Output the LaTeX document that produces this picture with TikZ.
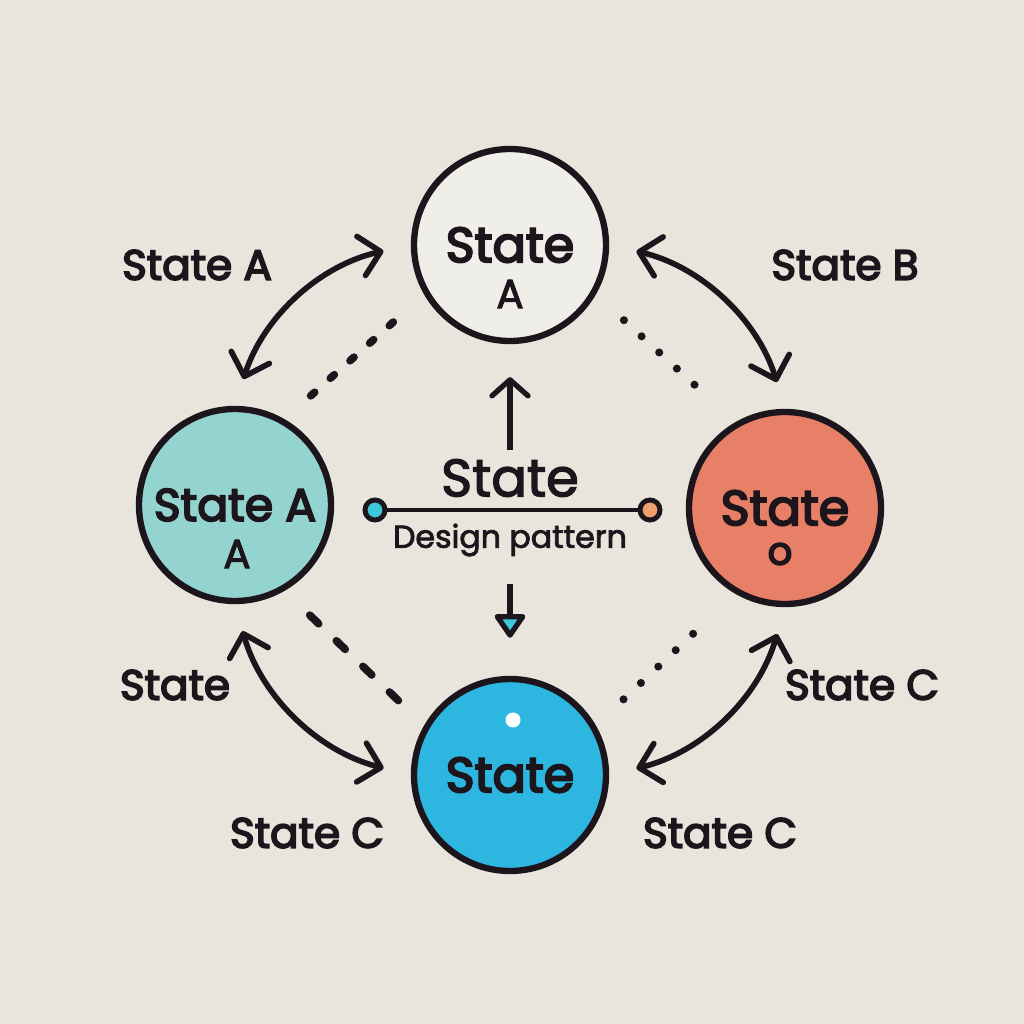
\documentclass[tikz,border=0pt]{standalone}
\usepackage{fontspec}
\setmainfont{Poppins}
\newfontfamily\medium{Poppins}[FakeBold=4]
\newfontfamily\lightmed{Poppins}[FakeBold=2.5]
\usetikzlibrary{arrows.meta,positioning}
\definecolor{paper}{RGB}{232,229,221}
\definecolor{ink}{RGB}{28,22,28}
\definecolor{paleA}{RGB}{240,238,232}
\definecolor{tealA}{RGB}{148,212,208}
\definecolor{coralB}{RGB}{232,128,104}
\definecolor{blueC}{RGB}{44,182,224}
\definecolor{dotcyan}{RGB}{60,200,216}
\definecolor{dotorange}{RGB}{240,160,112}

\begin{document}
\begin{tikzpicture}[
		st/.style={circle,draw=ink,line width=1.8pt,minimum size=1.92cm,inner sep=0pt,text=ink,font=\medium\fontsize{14}{16}\selectfont},
		lbl/.style={font=\medium\fontsize{12}{14}\selectfont,text=ink},
		minor/.style={font=\lightmed\fontsize{11.5}{13}\selectfont,text=ink,inner sep=1pt},
		pin/.style={circle,draw=ink,line width=1.4pt,minimum size=0.2cm,inner sep=0pt},
		twoway/.style={ink,line width=1.6pt,shorten <=0.28cm,shorten >=0.28cm,{Straight Barb[length=2mm,width=4mm,round]}-{Straight Barb[length=2mm,width=4mm,round]}},
		dashlink/.style={ink,line width=2.2pt,line cap=round,dash pattern=on 1.5pt off 6pt,shorten <=0.35cm,shorten >=0.33cm},
		dotlink/.style={ink,line width=2.3pt,line cap=round,dash pattern=on 0pt off 6.8pt,shorten <=0.38cm,shorten >=0.38cm}
	]
		\fill[paper] (0,0) rectangle (10.24,10.24);
		\useasboundingbox (0,0) rectangle (10.24,10.24);

		\draw (5.10,7.79) node [st,fill=paleA] (a) {State};
		\draw (2.35,5.19) node [st,fill=tealA,font=\medium\fontsize{13}{15}\selectfont] (l) {State A};
		\draw (7.85,5.16) node [st,fill=coralB] (r) {State};
		\draw (5.10,2.49) node [st,fill=blueC] (b) {State};

		\draw (5.10,7.30) node [minor] (asub) {A};
		\draw (2.37,4.70) node [minor] (lsub) {A};
		\draw (7.80,4.70) node [minor,font=\medium\fontsize{11}{12}\selectfont] (rsub) {o};
		\draw (5.13,3.04) node [circle,fill=white,minimum size=0.15cm,inner sep=0pt] (bdot) {};

		\draw (1.97,7.59) node [lbl] (la) {State A};
		\draw (8.45,7.59) node [lbl] (lb) {State B};
		\draw (1.75,3.39) node [lbl] (ls) {State};
		\draw (8.62,3.39) node [lbl] (lc) {State C};
		\draw (3.07,1.91) node [lbl] (lcl) {State C};
		\draw (7.20,1.91) node [lbl] (lcr) {State C};

		\draw (5.10,5.46) node [font=\lightmed\fontsize{15}{18}\selectfont,text=ink] (ctitle) {State};
		\draw (3.75,5.14) node [pin,fill=dotcyan] (lpin) {};
		\draw (6.50,5.14) node [pin,fill=dotorange] (rpin) {};
		\draw (5.10,4.84) node [font=\lightmed\fontsize{9}{11}\selectfont,text=ink] (cdesc) {Design pattern};

		\draw
			(l.north) edge [twoway,bend left=30] (a.west)
			(a.east) edge [twoway,bend left=30] (r.north)
			(r.south) edge [twoway,bend left=30] (b.east)
			(b.west) edge [twoway,bend left=30] (l.south)
			(l.60) edge [dashlink] (a.210)
			(a.330) edge [dotlink] (r.120)
			(l.300) edge [dashlink,dash pattern=on 3.5pt off 7pt] (b.150)
			(b.30) edge [dotlink] (r.240)
			(lpin) edge [ink,line width=1.4pt] (rpin)
			(ctitle) edge [ink,line width=1.5pt,shorten <=-1pt,shorten >=0.33cm,-{Straight Barb[length=1.6mm,width=3.6mm,round]}] (a)
			(cdesc) edge [ink,line width=1.5pt,shorten <=0.15cm,shorten >=0.38cm,-{Triangle[length=2.6mm,width=3.4mm,round,fill=dotcyan]}] (b)
		;
	\end{tikzpicture}
\end{document}
